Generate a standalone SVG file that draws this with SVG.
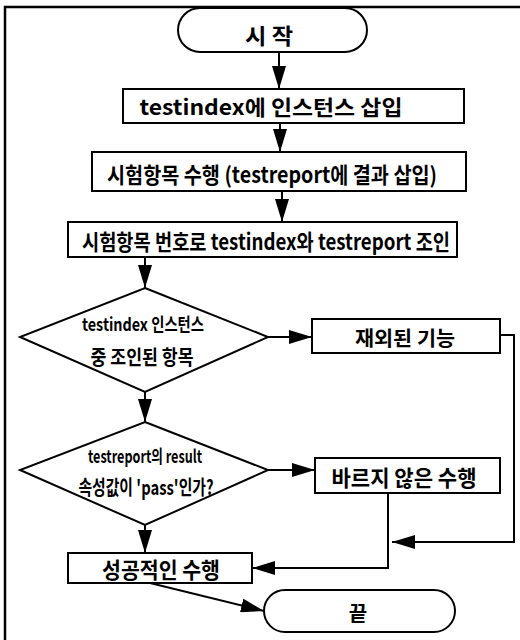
<svg xmlns="http://www.w3.org/2000/svg" width="520" height="640" viewBox="0 0 520 640">
<style>
.shape{fill:#fff;stroke:#000;stroke-width:2}
.frame{fill:none;stroke:#000;stroke-width:2.5}
.t{font-family:"Noto Sans CJK KR","Liberation Sans",sans-serif;font-weight:700;fill:#000;text-anchor:middle;dominant-baseline:central}
.c{fill:none;stroke:#000;stroke-width:2}
</style>
<defs>
<marker id="ah" viewBox="0 0 23 14" refX="23" refY="7" markerWidth="23" markerHeight="14" markerUnits="userSpaceOnUse" orient="auto">
<path d="M0,0 L23,7 L0,14 Z" fill="#000"/>
</marker>
</defs>
<rect width="520" height="640" fill="#fff"/>
<g id="frame">
<path class="frame" d="M5,640 L5,7 L520,7"/>
</g>
<g id="connectors">
<path class="c" d="M279,52 L279,89" marker-end="url(#ah)"/>
<path class="c" d="M280,123 L280,152" marker-end="url(#ah)"/>
<path class="c" d="M282,191 L282,222" marker-end="url(#ah)"/>
<path class="c" d="M145,257 L145,288" marker-end="url(#ah)"/>
<path class="c" d="M268,337 L312,337" marker-end="url(#ah)"/>
<path class="c" d="M145,392 L145,422" marker-end="url(#ah)"/>
<path class="c" d="M268,470 L315,470" marker-end="url(#ah)"/>
<path class="c" d="M145,525 L145,553" marker-end="url(#ah)"/>
<path class="c" d="M500,335 L514,335 L514,542 L392,542" marker-end="url(#ah)"/>
<path class="c" d="M388,493 L388,568 L252,568" marker-end="url(#ah)"/>
<path class="c" d="M150,583 L264,611" marker-end="url(#ah)"/>
</g>
<g id="start">
<rect class="shape" x="178" y="8" width="189" height="44" rx="22"/>
<text class="t" x="269" y="34" font-size="22" textLength="48" lengthAdjust="spacingAndGlyphs">시 작</text>
</g>
<g id="insert-instance">
<rect class="shape" x="123" y="89" width="341" height="34"/>
<text class="t" x="271" y="106" font-size="21" textLength="263" lengthAdjust="spacingAndGlyphs">testindex에 인스턴스 삽입</text>
</g>
<g id="run-tests">
<rect class="shape" x="92" y="152" width="374" height="39"/>
<text class="t" x="272" y="173" font-size="22" textLength="330" lengthAdjust="spacingAndGlyphs">시험항목 수행 (testreport에 결과 삽입)</text>
</g>
<g id="join">
<rect class="shape" x="68" y="222" width="389" height="35"/>
<text class="t" x="266" y="240" font-size="22" textLength="368" lengthAdjust="spacingAndGlyphs">시험항목 번호로 testindex와 testreport 조인</text>
</g>
<g id="decision-joined">
<polygon class="shape" points="145,288 268,337 145,392 20,337"/>
<text class="t" x="143" y="323" font-size="18" textLength="122" lengthAdjust="spacingAndGlyphs">testindex 인스턴스</text>
<text class="t" x="142" y="356" font-size="20" textLength="103" lengthAdjust="spacingAndGlyphs">중 조인된 항목</text>
</g>
<g id="excluded">
<rect class="shape" x="312" y="319" width="188" height="34"/>
<text class="t" x="405" y="337" font-size="20" textLength="100" lengthAdjust="spacingAndGlyphs">재외된 기능</text>
</g>
<g id="decision-pass">
<polygon class="shape" points="145,422 268,470 145,525 20,470"/>
<text class="t" x="145" y="455" font-size="18" textLength="114" lengthAdjust="spacingAndGlyphs">testreport의 result</text>
<text class="t" x="146" y="486" font-size="20" textLength="135" lengthAdjust="spacingAndGlyphs">속성값이 'pass'인가?</text>
</g>
<g id="incorrect">
<rect class="shape" x="315" y="458" width="185" height="35"/>
<text class="t" x="404" y="476" font-size="22" textLength="145" lengthAdjust="spacingAndGlyphs">바르지 않은 수행</text>
</g>
<g id="success">
<rect class="shape" x="68" y="553" width="184" height="30"/>
<text class="t" x="161" y="568" font-size="22" textLength="118" lengthAdjust="spacingAndGlyphs">성공적인 수행</text>
</g>
<g id="end">
<rect class="shape" x="264" y="590" width="191" height="42" rx="21"/>
<text class="t" x="358" y="612" font-size="20">끝</text>
</g>
</svg>
